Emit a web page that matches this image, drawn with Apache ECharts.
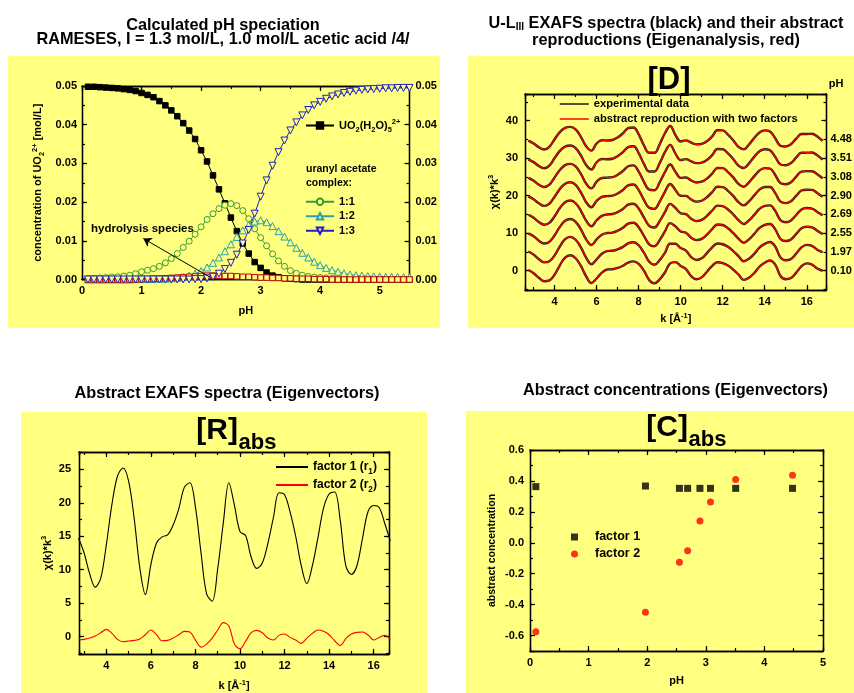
<!DOCTYPE html>
<html>
<head>
<meta charset="utf-8">
<script src="https://cdn.jsdelivr.net/npm/echarts@6/dist/echarts.min.js"></script>
<style>
html, body { margin: 0; padding: 0; background: #fff; }
#chart { width: 854px; height: 693px; }
</style>
</head>
<body>
<div id="chart"></div>
<script>
// ---- panel 1: calculated speciation (pH grid 0.1 .. 5.5) ----
const pH = [0.1,0.2,0.3,0.4,0.5,0.6,0.7,0.8,0.9,1.0,1.1,1.2,1.3,1.4,1.5,1.6,1.7,1.8,1.9,2.0,
  2.1,2.2,2.3,2.4,2.5,2.6,2.7,2.8,2.9,3.0,3.1,3.2,3.3,3.4,3.5,3.6,3.7,3.8,3.9,4.0,
  4.1,4.2,4.3,4.4,4.5,4.6,4.7,4.8,4.9,5.0,5.1,5.2,5.3,5.4,5.5];
const freeUO2 = [0.0498,0.0498,0.0497,0.0496,0.0495,0.0494,0.0492,0.0490,0.0487,0.0482,0.0477,0.0471,0.0461,0.0450,0.0437,0.0422,0.0404,0.0385,0.0363,0.0334,
  0.0305,0.0269,0.0233,0.0197,0.0160,0.0125,0.0093,0.0067,0.0045,0.0030,0.0018,0.0010,0.0006,0.0003,0.0002,0.0001,0,0,0,0,
  0,0,0,0,0,0,0,0,0,0,0,0,0,0,0];
const complex11 = [0.0003,0.0003,0.0004,0.0005,0.0006,0.0007,0.0009,0.0011,0.0015,0.0020,0.0024,0.0028,0.0034,0.0043,0.0054,0.0067,0.0083,0.0099,0.0117,0.0136,
  0.0155,0.0170,0.0183,0.0192,0.0196,0.0191,0.0178,0.0157,0.0131,0.0108,0.0087,0.0066,0.0048,0.0034,0.0023,0.0016,0.0011,0.0008,0.0006,0.0005,
  0.0004,0.0003,0.0003,0.0002,0.0002,0.0002,0.0002,0.0001,0.0001,0.0001,0.0001,0.0001,0.0001,0.0001,0.0001];
const complex12 = [0,0,0,0,0,0,0,0,0.0001,0.0001,0.0001,0.0001,0.0002,0.0002,0.0003,0.0004,0.0006,0.0010,0.0015,0.0022,
  0.0031,0.0043,0.0057,0.0073,0.0091,0.0110,0.0127,0.0141,0.0150,0.0153,0.0148,0.0138,0.0125,0.0111,0.0096,0.0082,0.0069,0.0057,0.0046,0.0037,
  0.0030,0.0024,0.0020,0.0016,0.0013,0.0011,0.0010,0.0009,0.0008,0.0008,0.0007,0.0007,0.0007,0.0006,0.0006];
const complex13 = [0,0,0,0,0,0,0,0,0,0,0,0,0,0,0,0,0,0,0.0001,0.0001,
  0.0003,0.0007,0.0015,0.0027,0.0043,0.0064,0.0093,0.0128,0.0170,0.0214,0.0256,0.0294,0.0329,0.0359,0.0385,0.0406,0.0424,0.0438,0.0450,0.0459,
  0.0467,0.0473,0.0478,0.0482,0.0485,0.0488,0.0490,0.0491,0.0492,0.0493,0.0494,0.0494,0.0495,0.0495,0.0495];
const hydrolysis = [0,0,0,0,0,0,0,0,0,0.0001,0.0001,0.0002,0.0002,0.0003,0.0004,0.0005,0.0006,0.0007,0.0008,0.0009,
  0.0010,0.0010,0.0010,0.0009,0.0009,0.0008,0.0007,0.0007,0.0006,0.0005,0.0005,0.0004,0.0004,0.0003,0.0003,0.0002,0.0002,0.0002,0.0001,0.0001,
  0.0001,0,0,0,0,0,0,0,0,0,0,0,0,0,0];

// ---- k grid shared by the EXAFS panels ----
const kGrid = [2.75,3.0,3.25,3.5,3.75,4.0,4.25,4.5,4.75,5.0,5.25,5.5,5.75,6.0,6.25,6.5,6.75,7.0,7.25,7.5,
  7.75,8.0,8.25,8.5,8.75,9.0,9.25,9.5,9.75,10.0,10.25,10.5,10.75,11.0,11.25,11.5,11.75,12.0,12.25,12.5,
  12.75,13.0,13.25,13.5,13.75,14.0,14.25,14.5,14.75,15.0,15.25,15.5,15.75,16.0,16.25,16.5,16.75];

// ---- panel 2: spectra per sample (before the display offset) ----
// experimental and reproduced curves coincide at this scale
const spec010 = [0.18,-0.67,-1.90,-2.80,-2.58,-1.06,1.44,3.47,4.10,3.32,1.26,-1.49,-3.30,-2.09,-0.53,0.31,0.39,0.73,1.31,2.17,2.48,1.84,-0.01,-2.47,-3.38,-2.31,-0.49,1.96,2.29,1.26,0.44,-1.47,-2.28,-1.79,-0.29,1.30,2.23,2.00,1.36,0.29,-1.01,-2.45,-1.87,-0.65,1.05,2.10,2.73,1.61,-1.41,-2.28,-1.95,-0.51,1.19,1.95,1.61,0.57,-0.02];
const spec197 = [0.12,-0.72,-1.93,-2.79,-2.50,-0.93,1.50,3.42,4.01,3.24,1.19,-1.53,-3.27,-1.96,-0.50,0.23,0.32,0.70,1.35,2.27,2.57,1.78,-0.20,-2.60,-3.40,-2.18,-0.23,2.16,2.16,1.03,0.36,-1.39,-2.16,-1.71,-0.31,1.24,2.25,2.05,1.35,0.23,-1.13,-2.47,-1.81,-0.52,1.15,2.14,2.65,1.45,-1.45,-2.23,-1.87,-0.43,1.22,1.89,1.60,0.59,-0.07];
const spec255 = [-0.05,-0.85,-2.00,-2.75,-2.31,-0.57,1.67,3.29,3.76,3.03,1.01,-1.65,-3.17,-1.64,-0.40,0.04,0.14,0.64,1.44,2.53,2.79,1.61,-0.71,-2.96,-3.47,-1.86,0.46,2.68,1.80,0.45,0.13,-1.20,-1.85,-1.52,-0.38,1.07,2.32,2.18,1.31,0.06,-1.46,-2.54,-1.64,-0.20,1.41,2.23,2.46,1.02,-1.54,-2.10,-1.66,-0.20,1.30,1.72,1.56,0.66,-0.20];
const spec269 = [-0.08,-0.88,-2.01,-2.75,-2.26,-0.49,1.71,3.26,3.71,2.98,0.97,-1.67,-3.15,-1.56,-0.38,-0.01,0.10,0.62,1.47,2.59,2.85,1.58,-0.82,-3.05,-3.48,-1.78,0.62,2.80,1.72,0.31,0.08,-1.15,-1.78,-1.47,-0.39,1.04,2.33,2.21,1.31,0.03,-1.53,-2.55,-1.61,-0.12,1.47,2.26,2.41,0.93,-1.57,-2.07,-1.61,-0.15,1.32,1.69,1.56,0.67,-0.23];
const spec290 = [-0.18,-0.96,-2.05,-2.73,-2.15,-0.28,1.80,3.18,3.56,2.86,0.86,-1.74,-3.09,-1.37,-0.32,-0.12,-0.01,0.58,1.52,2.74,2.98,1.48,-1.12,-3.25,-3.52,-1.59,1.01,3.10,1.51,-0.03,-0.06,-1.04,-1.60,-1.36,-0.43,0.94,2.37,2.29,1.29,-0.07,-1.72,-2.59,-1.51,0.07,1.62,2.31,2.30,0.68,-1.62,-1.99,-1.49,-0.01,1.37,1.59,1.54,0.71,-0.31];
const spec308 = [-0.24,-1.01,-2.07,-2.71,-2.07,-0.14,1.86,3.13,3.47,2.78,0.79,-1.78,-3.05,-1.25,-0.28,-0.20,-0.08,0.56,1.56,2.84,3.07,1.42,-1.31,-3.39,-3.54,-1.47,1.28,3.30,1.37,-0.26,-0.15,-0.96,-1.48,-1.28,-0.45,0.88,2.39,2.34,1.27,-0.13,-1.85,-2.61,-1.45,0.20,1.72,2.35,2.22,0.52,-1.66,-1.94,-1.41,0.08,1.40,1.53,1.52,0.73,-0.36];
const spec351 = [-0.32,-1.06,-2.10,-2.70,-1.98,0.02,1.94,3.08,3.36,2.68,0.71,-1.83,-3.01,-1.10,-0.24,-0.29,-0.16,0.53,1.60,2.96,3.17,1.35,-1.54,-3.55,-3.57,-1.32,1.58,3.54,1.21,-0.52,-0.25,-0.87,-1.34,-1.19,-0.48,0.80,2.42,2.39,1.26,-0.21,-1.99,-2.64,-1.38,0.34,1.84,2.39,2.13,0.33,-1.70,-1.89,-1.31,0.18,1.43,1.46,1.51,0.76,-0.41];
const spec448 = [-0.33,-1.07,-2.11,-2.70,-1.97,0.05,1.95,3.07,3.34,2.67,0.70,-1.84,-3.00,-1.08,-0.23,-0.30,-0.17,0.52,1.61,2.98,3.18,1.33,-1.57,-3.58,-3.58,-1.30,1.63,3.58,1.18,-0.56,-0.26,-0.86,-1.32,-1.18,-0.49,0.79,2.43,2.40,1.26,-0.22,-2.02,-2.65,-1.36,0.37,1.86,2.40,2.12,0.29,-1.71,-1.88,-1.30,0.19,1.44,1.44,1.51,0.77,-0.42];
const specOffsets = [0, 5, 10, 15, 20, 25, 30, 35];
const specLabels = ['0.10', '1.97', '2.55', '2.69', '2.90', '3.08', '3.51', '4.48'];

// ---- panel 3: eigenvectors ----
const r1 = [14.7,12.5,9.4,7.4,8.8,13.8,19.8,24.0,25.2,23.2,17.6,10.3,6.3,10.8,14.0,14.9,15.2,16.7,19.1,22.3,
  23.0,19.3,12.5,6.4,5.3,10.2,17.0,23.0,19.6,15.7,15.1,11.9,10.2,11.0,13.9,17.8,21.5,21.2,18.6,15.0,
  10.6,7.9,10.6,14.8,19.2,21.3,21.6,17.4,10.6,9.3,10.6,14.7,18.7,19.6,19.3,16.9,14.3];
const r2 = [-0.5,-0.4,-0.2,0.1,0.6,1.1,0.5,-0.4,-0.75,-0.65,-0.55,-0.35,0.3,1.0,0.3,-0.6,-0.55,-0.2,0.3,0.8,
  0.7,-0.5,-1.55,-1.1,-0.2,1.0,2.1,1.6,-1.1,-1.8,-0.7,0.6,0.95,0.6,-0.2,-0.5,0.2,0.4,-0.1,-0.5,
  -1.0,-0.2,0.5,1.0,0.8,0.3,-0.6,-1.3,-0.3,0.4,0.65,0.7,0.25,-0.5,-0.1,0.2,-0.4];

// ---- panel 4: abstract concentrations ----
const samplePH = [0.10, 1.97, 2.55, 2.69, 2.90, 3.08, 3.51, 4.48];
const factor1 = [0.363, 0.367, 0.352, 0.352, 0.352, 0.352, 0.352, 0.352];
const factor2 = [-0.575, -0.45, -0.126, -0.051, 0.141, 0.264, 0.41, 0.436];

const FONT = '"Liberation Sans", Arial, sans-serif';
const YELLOW = '#FFFF80';
const C11 = '#3a9a30', C12 = '#2aa3a8', C13 = '#2020c8', CHYD = '#c00000';
const TITLE = 16.3;

const chart = echarts.init(document.getElementById('chart'));

function subSup(size) {
  return {
    s: { fontFamily: FONT, fontWeight: 'bold', fontSize: size * 0.68, color: '#000', verticalAlign: 'bottom' },
    p: { fontFamily: FONT, fontWeight: 'bold', fontSize: size * 0.68, color: '#000', verticalAlign: 'top' }
  };
}
function txt(size, extra) {
  return Object.assign({ color: '#000', fontFamily: FONT, fontWeight: 'bold', fontSize: size }, extra || {});
}
const every = (step, f) => v => Math.abs(v / step - Math.round(v / step)) < 1e-6 ? f(v) : '';

const xAxes = [], yAxes = [];
function valueAxis(o) {
  const a = {
    type: 'value', gridIndex: o.grid, position: o.pos, min: o.min, max: o.max,
    minInterval: o.step, maxInterval: o.step,
    axisLine: { show: o.line !== false, onZero: false, lineStyle: { color: '#000', width: 1.3 } },
    axisTick: { show: o.tick !== false, inside: true, length: o.len, lineStyle: { color: '#000', width: 1.2 } },
    axisLabel: o.fmt ? txt(11, { show: true, margin: o.margin, formatter: o.fmt }) : { show: false },
    splitLine: { show: false }
  };
  if (o.name) {
    a.name = o.name; a.nameLocation = 'middle'; a.nameGap = o.nameGap;
    a.nameTextStyle = txt(o.nameSize || 11, { rich: subSup(o.nameSize || 11), lineHeight: 14 });
  }
  return a;
}
// box frame: labelled bottom/left axes plus ticks on all four sides
function frame(grid, X, Y) {
  const xi = xAxes.length, yi = yAxes.length;
  xAxes.push(valueAxis(Object.assign({}, X, { grid, pos: 'bottom', step: X.major, len: 5 })));
  xAxes.push(valueAxis({ grid, pos: 'bottom', min: X.min, max: X.max, step: X.minor, len: 3 }));
  xAxes.push(valueAxis({ grid, pos: 'top', min: X.min, max: X.max, step: X.major, len: 5 }));
  xAxes.push(valueAxis({ grid, pos: 'top', min: X.min, max: X.max, step: X.minor, len: 3 }));
  yAxes.push(valueAxis(Object.assign({}, Y, { grid, pos: 'left', step: Y.major, len: 5 })));
  yAxes.push(valueAxis({ grid, pos: 'left', min: Y.min, max: Y.max, step: Y.minor, len: 3 }));
  yAxes.push(valueAxis({ grid, pos: 'right', min: Y.min, max: Y.max, step: Y.major, len: 5, fmt: Y.rightFmt, margin: Y.rightMargin }));
  yAxes.push(valueAxis({ grid, pos: 'right', min: Y.min, max: Y.max, step: Y.minor, len: 3 }));
  return { x: xi, y: yi };
}

const grids = [
  { left: 82, top: 86, width: 327.5, height: 193.5 },
  { left: 525, top: 94, width: 301.5, height: 196 },
  { left: 79, top: 452, width: 310, height: 202 },
  { left: 530, top: 450, width: 293, height: 201 }
].map(g => Object.assign({ containLabel: false, outerBoundsMode: 'none', show: false }, g));

const fmt2 = every(0.01, v => v.toFixed(2));
const p1 = frame(0,
  { min: 0, max: 5.5, major: 1, minor: 0.5, fmt: every(1, v => String(Math.round(v))), margin: 6, name: 'pH', nameGap: 24 },
  { min: 0, max: 0.05, major: 0.01, minor: 0.005, fmt: fmt2, margin: 5, rightFmt: fmt2, rightMargin: 6,
    name: 'concentration of UO{s|2}{p|2+} [mol/L]', nameGap: 37, nameSize: 11 });
const p2 = frame(1,
  { min: 2.59, max: 16.94, major: 2, minor: 1, fmt: every(2, v => String(Math.round(v))), margin: 6, name: 'k [Å{p|-1}]', nameGap: 22 },
  { min: -5.15, max: 47.1, major: 10, minor: 5, fmt: every(10, v => String(Math.round(v))), margin: 7,
    name: 'χ(k)*k{p|3}', nameGap: 23 });
const p3 = frame(2,
  { min: 2.77, max: 16.69, major: 2, minor: 1, fmt: every(2, v => String(Math.round(v))), margin: 6, name: 'k [Å{p|-1}]', nameGap: 25 },
  { min: -2.58, max: 27.58, major: 5, minor: 2.5, fmt: every(5, v => String(Math.round(v))), margin: 8,
    name: 'χ(k)*k{p|3}', nameGap: 24 });
const p4 = frame(3,
  { min: 0, max: 5, major: 1, minor: 0.5, fmt: every(1, v => String(Math.round(v))), margin: 6, name: 'pH', nameGap: 23 },
  { min: -0.7, max: 0.6, major: 0.2, minor: 0.1, fmt: every(0.2, v => v.toFixed(1)), margin: 6,
    name: 'abstract concentration', nameGap: 31, nameSize: 10.5 });

// pH labels of the stacked spectra on the right of panel 2
yAxes.push(valueAxis({ grid: 1, pos: 'right', min: -5.15, max: 47.1, step: 5, line: false, tick: false, margin: 4,
  fmt: v => {
    const i = Math.round(v / 5);
    return (Math.abs(v - 5 * i) < 1e-6 && i >= 0 && i < specLabels.length) ? specLabels[i] : '';
  } }));

const series = [];
const pts = (xs, ys) => xs.map((x, i) => [x, ys[i]]);
function specLine(name, ys, color, symbol, size, filled, rotate) {
  return {
    type: 'line', name, xAxisIndex: p1.x, yAxisIndex: p1.y, data: pts(pH, ys),
    symbol, symbolSize: size, symbolRotate: rotate || 0,
    lineStyle: { color, width: 1 },
    itemStyle: { color: filled ? color : YELLOW, borderColor: color, borderWidth: 1 }
  };
}
series.push(specLine('UO2', freeUO2, '#000', 'rect', 5.5, true));
series.push(specLine('1:1', complex11, C11, 'circle', 6));
series.push(specLine('1:2', complex12, C12, 'triangle', 7));
const hyd = specLine('hydrolysis', hydrolysis, CHYD, 'rect', 5.5);
hyd.markLine = {
  silent: true, symbol: ['none', 'arrow'], symbolSize: 8,
  lineStyle: { color: '#000', width: 1, type: 'solid' }, label: { show: false },
  data: [[{ coord: [2.14, 0.0007] }, { coord: [1.03, 0.0106] }]]
};
series.push(hyd);
series.push(specLine('1:3', complex13, C13, 'triangle', 7, false, 180));

const spectra = [spec010, spec197, spec255, spec269, spec290, spec308, spec351, spec448];
spectra.forEach((s, i) => {
  series.push({ type: 'line', name: 'experimental data', xAxisIndex: p2.x, yAxisIndex: p2.y,
    data: kGrid.map((k, j) => [k, s[j] + specOffsets[i]]), symbol: 'none', smooth: 0.4,
    lineStyle: { color: '#1a1a1a', width: 2.4 }, z: 2 });
});
spectra.forEach((s, i) => {
  series.push({ type: 'line', name: 'abstract reproduction with two factors', xAxisIndex: p2.x, yAxisIndex: p2.y,
    data: kGrid.map((k, j) => [k, s[j] + specOffsets[i]]), symbol: 'none', smooth: 0.4,
    lineStyle: { color: '#ff0000', width: 1.2 }, z: 3 });
});

series.push({ type: 'line', name: 'factor 1 (r1)', xAxisIndex: p3.x, yAxisIndex: p3.y, data: pts(kGrid, r1),
  symbol: 'none', smooth: 0.35, lineStyle: { color: '#000', width: 1.1 } });
series.push({ type: 'line', name: 'factor 2 (r2)', xAxisIndex: p3.x, yAxisIndex: p3.y, data: pts(kGrid, r2),
  symbol: 'none', smooth: 0.35, lineStyle: { color: '#ff0000', width: 1.1 } });

series.push({ type: 'scatter', name: 'factor 1', xAxisIndex: p4.x, yAxisIndex: p4.y, data: pts(samplePH, factor1),
  symbol: 'rect', symbolSize: 7, itemStyle: { color: '#000' } });
series.push({ type: 'scatter', name: 'factor 2', xAxisIndex: p4.x, yAxisIndex: p4.y, data: pts(samplePH, factor2),
  symbol: 'circle', symbolSize: 7, itemStyle: { color: '#ff0000' } });

const legendBase = { padding: 0, itemGap: 0, selectedMode: false, orient: 'vertical' };
const lineOnly = { itemStyle: { opacity: 0, borderWidth: 0 } };
const legend = [
  Object.assign({}, legendBase, { data: ['UO2'], left: 305, top: 118, itemWidth: 28, itemHeight: 8,
    formatter: () => 'UO{s|2}(H{s|2}O){s|5}{p|2+}', textStyle: txt(11, { lineHeight: 15, rich: subSup(11) }) }),
  Object.assign({}, legendBase, { data: ['1:1', '1:2', '1:3'], left: 305, top: 194.5, itemWidth: 28, itemHeight: 8,
    textStyle: txt(11, { lineHeight: 14.5 }) }),
  Object.assign({}, legendBase, lineOnly, { data: ['experimental data', 'abstract reproduction with two factors'], left: 559, top: 96.5,
    itemWidth: 29, itemHeight: 8, lineStyle: { width: 1.5 }, textStyle: txt(11.2, { lineHeight: 15 }) }),
  Object.assign({}, legendBase, lineOnly, { data: ['factor 1 (r1)', 'factor 2 (r2)'], left: 275, top: 458, itemWidth: 32, itemHeight: 8,
    formatter: n => n.replace(/\(r(\d)\)/, '(r{s|$1})'), textStyle: txt(12, { lineHeight: 18, rich: subSup(12) }) }),
  Object.assign({}, legendBase, { data: ['factor 1', 'factor 2'], left: 571, top: 528.5, itemWidth: 7, itemHeight: 7,
    textStyle: txt(12.5, { lineHeight: 17, padding: [0, 0, 0, 12] }) })
];

function label(x, y, text, size, opts) {
  opts = opts || {};
  return { type: 'text', x, y, z: 20, silent: true, style: {
    text, fill: '#000', font: 'bold ' + size + 'px ' + FONT,
    align: opts.align || 'center', verticalAlign: opts.v || 'middle',
    lineHeight: opts.lh, rich: opts.rich } };
}
const bg = (x, y, w, h) => ({ type: 'rect', z: -10, silent: true, shape: { x, y, width: w, height: h }, style: { fill: YELLOW } });

const richTitle = {
  s: { fontFamily: FONT, fontWeight: 'bold', fontSize: 10, verticalAlign: 'bottom' }
};

const graphic = [
  bg(8, 56, 432, 272), bg(468, 56, 386, 272), bg(21, 412, 406, 281), bg(466, 411, 388, 282),
  label(223, 18.5, 'Calculated pH speciation\nRAMESES, I = 1.3 mol/L, 1.0 mol/L acetic acid /4/', TITLE, { v: 'top', lh: 14 }),
  label(666, 15.5, 'U-L{s|III} EXAFS spectra (black) and their abstract\nreproductions (Eigenanalysis, red)', TITLE,
    { v: 'top', lh: 16.6, rich: richTitle }),
  label(227, 393.5, 'Abstract EXAFS spectra (Eigenvectors)', TITLE),
  label(675.5, 390.5, 'Abstract concentrations (Eigenvectors)', TITLE),
  label(669, 80, '[D]', 31),
  label(238, 431, '[R]', 30, { align: 'right' }),
  label(238.5, 442.5, 'abs', 22, { align: 'left' }),
  label(688, 428, '[C]', 30, { align: 'right' }),
  label(688.5, 440, 'abs', 22, { align: 'left' }),
  label(836, 84, 'pH', 11),
  label(306, 162.5, 'uranyl acetate\ncomplex:', 10.5, { align: 'left', v: 'top', lh: 14 }),
  label(91, 229, 'hydrolysis species', 11.5, { align: 'left' })
];

chart.setOption({
  animation: false,
  backgroundColor: '#fff',
  grid: grids,
  xAxis: xAxes,
  yAxis: yAxes,
  legend,
  graphic,
  series
});
</script>
</body>
</html>
